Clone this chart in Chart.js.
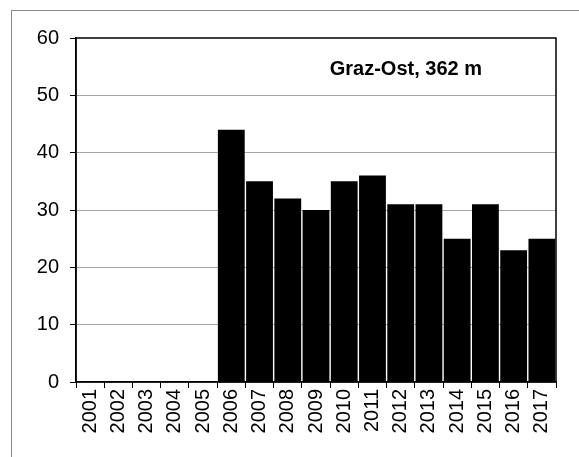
<!DOCTYPE html>
<html>
<head>
<meta charset="utf-8">
<script src="https://cdn.jsdelivr.net/npm/chart.js@4"></script>
<style>
  html, body { margin: 0; padding: 0; background: #fff; }
  #wrap { position: relative; width: 579px; height: 457px; overflow: hidden; }
  #frame { position: absolute; left: 11px; top: 10px; width: 600px; height: 500px;
           border-top: 1px solid #888; border-left: 1px solid #888; }
  #title { position: absolute; right: 97px; top: 57px; font: bold 20px "Liberation Sans", Arial, sans-serif; color: #000; white-space: nowrap; }
  canvas { position: absolute; left: 0; top: 0; }
</style>
</head>
<body>
<div id="wrap">
  <div id="frame"></div>
  <canvas id="c" width="579" height="457"></canvas>
  <div id="title">Graz-Ost, 362 m</div>
</div>
<script>
const years = ["2001","2002","2003","2004","2005","2006","2007","2008","2009","2010","2011","2012","2013","2014","2015","2016","2017"];
const values = [null, null, null, null, null, 44, 35, 32, 30, 35, 36, 31, 31, 25, 31, 23, 25];
const yTicks = [0, 10, 20, 30, 40, 50, 60];

const framePlugin = {
  id: 'frame',
  afterDatasetsDraw(chart) {
    const a = chart.chartArea, ctx = chart.ctx;
    ctx.save();
    ctx.strokeStyle = '#000';
    ctx.lineWidth = 1.5;
    ctx.strokeRect(a.left, a.top, a.right - a.left, a.bottom - a.top);
    ctx.restore();
  }
};

new Chart(document.getElementById('c'), {
  type: 'bar',
  data: {
    labels: years,
    datasets: [{
      data: values,
      backgroundColor: '#000',
      borderWidth: 0,
      barPercentage: 1,
      categoryPercentage: 0.95
    }]
  },
  options: {
    responsive: false,
    animation: false,
    events: [],
    layout: { padding: { left: 0, right: 23, top: 38, bottom: 0 } },
    plugins: { legend: { display: false }, tooltip: { enabled: false } },
    scales: {
      x: {
        offset: true,
        afterFit(s) { s.height = 75; },
        grid: { offset: true, drawOnChartArea: false, drawTicks: true, tickLength: 6, tickColor: '#000', lineWidth: 1 },
        border: { display: true, color: '#000', width: 1.5 },
        ticks: {
          color: '#000', minRotation: 90, maxRotation: 90, padding: 1, autoSkip: false,
          font: { family: '"Liberation Sans", Arial, sans-serif', size: 20 }
        }
      },
      y: {
        min: 0, max: 60,
        afterFit(s) { s.width = 76; },
        afterBuildTicks(s) { s.ticks = yTicks.map(v => ({ value: v })); },
        grid: {
          color: (c) => (c.tick && (c.tick.value === 0 || c.tick.value === 60)) ? 'rgba(0,0,0,0)' : '#a6a6a6',
          lineWidth: 1, drawTicks: true, tickLength: 6, tickColor: '#000'
        },
        border: { display: true, color: '#000', width: 1.5 },
        ticks: {
          color: '#000', padding: 11,
          font: { family: '"Liberation Sans", Arial, sans-serif', size: 20 }
        }
      }
    }
  },
  plugins: [framePlugin]
});
</script>
</body>
</html>
